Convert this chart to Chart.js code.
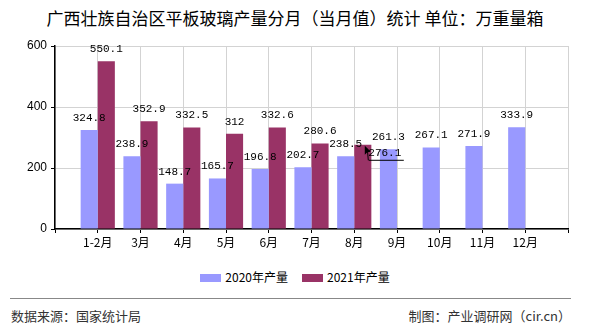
<!DOCTYPE html>
<html><head><meta charset="utf-8">
<script src="https://cdn.jsdelivr.net/npm/chart.js@4/dist/chart.umd.min.js"></script>
<style>
html,body{margin:0;padding:0;background:#fff;}
#wrap{position:relative;width:590px;height:330px;overflow:hidden;font-family:"Noto Sans CJK SC","Noto Sans",sans-serif;}
#title{position:absolute;left:0;top:6px;width:590px;text-align:center;font-size:17px;color:#000;line-height:24px;}
#cv{position:absolute;left:0;top:0;}
#legend{position:absolute;top:268px;left:0;width:590px;text-align:center;font-size:12px;line-height:18px;}
.li{display:inline-block;margin:0 7px;}
.sw{display:inline-block;width:21px;height:8px;vertical-align:middle;margin-right:4px;position:relative;top:-1px;}
#sep{position:absolute;left:10px;top:298px;width:561px;height:1px;background:#888;}
#src{position:absolute;left:11px;top:307px;font-size:13px;line-height:18px;color:#333;}
#by{position:absolute;right:19px;top:307px;font-size:13px;line-height:18px;color:#333;}
</style></head>
<body><div id="wrap">
<div id="title">广西壮族自治区平板玻璃产量分月（当月值）统计 单位：万重量箱</div>
<canvas id="cv" width="590" height="260"></canvas>
<div id="legend"><span class="li"><span class="sw" style="background:#9999FF"></span>2020年产量</span><span class="li"><span class="sw" style="background:#993366"></span>2021年产量</span></div>
<div id="sep"></div>
<div id="src">数据来源：国家统计局</div>
<div id="by">制图：产业调研网（cir.cn）</div>
</div>
<script>
const categories = ['1-2月','3月','4月','5月','6月','7月','8月','9月','10月','11月','12月'];
const values2020 = [324.8, 238.9, 148.7, 165.7, 196.8, 202.7, 238.5, 261.3, 267.1, 271.9, 333.9];
const values2021 = [550.1, 352.9, 332.5, 312, 332.6, 280.6, 276.1, null, null, null, null];
const yTicks = [0, 200, 400, 600];
const seriesNames = ['2020年产量','2021年产量'];

const labels = [''].concat(categories, ['']);
const pad = a => [null].concat(a, [null]);

const labelPlugin = {
  id: 'vlabels',
  afterDatasetsDraw(chart) {
    const ctx = chart.ctx;
    ctx.save();
    ctx.font = '11px "Liberation Mono","DejaVu Sans Mono",monospace';
    ctx.fillStyle = '#000';
    ctx.textAlign = 'center';
    ctx.textBaseline = 'middle';
    chart.data.datasets.forEach((ds, di) => {
      const meta = chart.getDatasetMeta(di);
      meta.data.forEach((bar, i) => {
        const v = ds.data[i];
        if (v === null || v === undefined) return;
        let x = bar.x, y = bar.y - 12;
        if (di === 1 && labels[i] === '8月') {
          x = bar.x + 22; y = bar.y + 8;
          ctx.fillText(String(v), x, y);
          ctx.beginPath();
          ctx.strokeStyle = '#000';
          ctx.lineWidth = 1;
          ctx.moveTo(x - 16, y + 7.5); ctx.lineTo(x + 19, y + 7.5);
          ctx.moveTo(x - 16.5, y + 7.5); ctx.lineTo(x - 17.5, y - 4);
          ctx.stroke();
          const ax = bar.x + 2, ay = bar.y + 1;
          ctx.beginPath();
          ctx.moveTo(ax, ay); ctx.lineTo(ax, ay + 9); ctx.lineTo(ax + 2.5, ay + 6.5);
          ctx.lineTo(ax + 6, ay + 6); ctx.closePath();
          ctx.fill();
          return;
        }
        ctx.fillText(String(v), x, y);
      });
    });
    ctx.restore();
  }
};

new Chart(document.getElementById('cv'), {
  type: 'bar',
  data: {
    labels: labels,
    datasets: [
      {label: seriesNames[0], data: pad(values2020), backgroundColor: '#9999FF', borderWidth: 0, categoryPercentage: 0.8, barPercentage: 1.0},
      {label: seriesNames[1], data: pad(values2021), backgroundColor: '#993366', borderWidth: 0, categoryPercentage: 0.8, barPercentage: 1.0}
    ]
  },
  options: {
    responsive: false,
    animation: false,
    devicePixelRatio: 1,
    layout: {padding: {top: 46, right: 22, left: 0, bottom: 0}},
    plugins: {legend: {display: false}, tooltip: {enabled: false}, title: {display: false}},
    scales: {
      x: {
        type: 'category',
        offset: false,
        grid: {offset: false, color: '#d3d3d3', lineWidth: 1, drawTicks: true, tickLength: 4, tickColor: '#000'},
        border: {color: '#000', width: 1.5},
        ticks: {color: '#000', font: {family: '"Noto Sans CJK SC"', size: 12}, padding: 2, maxRotation: 0, autoSkip: false},
        afterFit(s) { s.height = 31; }
      },
      y: {
        min: 0, max: 600,
        afterBuildTicks(s) { s.ticks = yTicks.map(v => ({value: v})); },
        grid: {color: '#d3d3d3', lineWidth: 1, drawTicks: true, tickLength: 4, tickColor: '#000'},
        border: {color: '#000', width: 1.5},
        ticks: {color: '#000', font: {family: '"Liberation Sans"', size: 12}, padding: 4},
        afterFit(s) { s.width = 55; }
      }
    }
  },
  plugins: [labelPlugin]
});
</script>
</body></html>
